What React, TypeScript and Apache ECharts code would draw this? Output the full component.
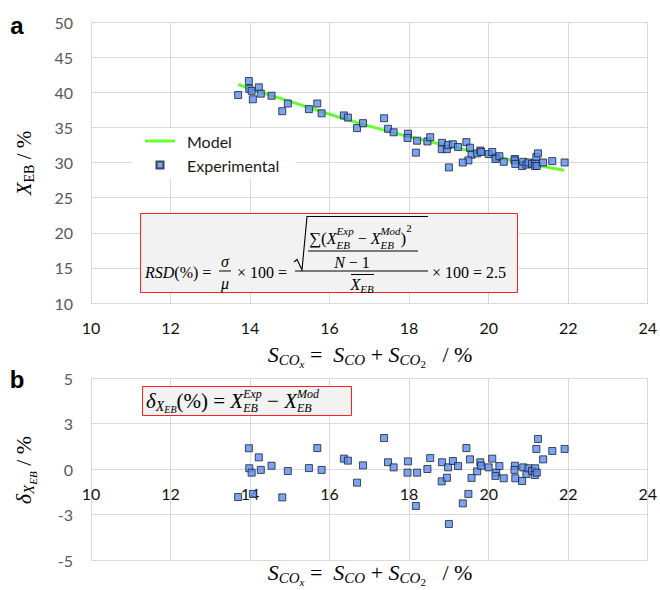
import React, { useEffect, useRef } from 'react';
import * as echarts from 'echarts';

// ---- data ----
const sCOx = [13.70, 13.97, 13.98, 14.04, 14.07, 14.22, 14.27, 14.54, 14.81, 14.95, 15.48, 15.69, 15.80, 16.36, 16.46, 16.69, 16.84, 17.37, 17.47, 17.61, 17.97, 17.96, 18.20, 18.17, 18.46, 18.53, 18.83, 18.82, 18.95, 18.98, 19.00, 19.10, 19.23, 19.44, 19.53, 19.57, 19.49, 19.35, 19.71, 19.79, 19.81, 20.00, 20.09, 20.19, 20.17, 20.27, 20.38, 20.66, 20.65, 20.67, 20.84, 20.87, 20.95, 21.00, 21.09, 21.17, 21.16, 21.21, 21.20, 21.24, 21.37, 21.60, 21.91];
const xEBExp = [39.6, 41.6, 40.5, 40.2, 39.0, 40.7, 39.8, 39.5, 37.3, 38.4, 37.6, 38.4, 37.0, 36.7, 36.4, 34.9, 35.6, 36.3, 34.8, 34.3, 34.1, 33.5, 33.1, 31.4, 33.0, 33.6, 32.8, 31.9, 31.9, 32.5, 29.3, 32.6, 32.2, 32.9, 32.1, 31.1, 30.3, 30.0, 31.3, 31.7, 31.5, 31.2, 31.5, 30.7, 30.5, 30.9, 30.1, 30.5, 30.3, 29.8, 29.5, 30.1, 29.7, 30.0, 29.8, 29.9, 29.5, 29.5, 30.8, 31.3, 30.0, 30.2, 30.0];
const deltaXEB = [-1.54, 1.14, 0.04, -0.20, -1.37, 0.64, -0.05, 0.18, -1.56, -0.11, 0.05, 1.15, -0.05, 0.57, 0.46, -0.75, 0.20, 1.70, 0.37, 0.09, 0.42, -0.20, -0.20, -2.03, 0.00, 0.60, 0.37, -0.68, -0.48, 0.09, -3.02, 0.44, 0.16, 1.15, 0.53, -0.49, -1.37, -1.89, -0.13, 0.37, 0.18, 0.09, 0.57, -0.20, -0.38, 0.16, -0.51, 0.18, -0.05, -0.51, -0.66, 0.09, -0.27, 0.04, -0.11, 0.04, -0.33, -0.20, 1.10, 1.65, 0.53, 0.99, 1.10];
const modelS = [13.7, 14.5, 15.5, 16.5, 17.5, 18.5, 19.5, 20.5, 21.2, 21.9];
const modelXEB = [41.1, 39.6, 37.8, 36.0, 34.4, 33.0, 31.7, 30.4, 29.6, 28.9];

const MATH = 'Liberation Serif';
const SANS = 'Lato';
const GRID_GRAY = '#d9d9d9';

let _ctx: CanvasRenderingContext2D | null = null;
function tw(t: string, s: number, it?: boolean) {
  if (!_ctx) _ctx = document.createElement('canvas').getContext('2d');
  _ctx!.font = `${it ? 'italic ' : ''}${s}px "${MATH}"`;
  return _ctx!.measureText(t).width;
}

type P = { t?: string; s: number; i?: boolean; dy?: number; sup?: string; sub?: string; supDy?: number; subDy?: number };

function row(ps: P[], x0: number, y0: number, center: boolean, z = 20) {
  const ws = ps.map((p) =>
    p.sup !== undefined ? Math.max(tw(p.sup, p.s, p.i), tw(p.sub || '', p.s, p.i)) : tw(p.t || '', p.s, p.i)
  );
  const total = ws.reduce((a, b) => a + b, 0);
  let x = center ? x0 - total / 2 : x0;
  const els: any[] = [];
  ps.forEach((p, k) => {
    const mk = (t: string, dy: number) => ({
      type: 'text',
      z,
      x,
      y: y0 + dy,
      style: {
        text: t,
        fontSize: p.s,
        fontFamily: MATH,
        fontStyle: p.i ? 'italic' : 'normal',
        fill: '#000',
        align: 'left',
        verticalAlign: 'middle',
      },
    });
    if (p.sup !== undefined) {
      els.push(mk(p.sup, p.supDy ?? -7));
      els.push(mk(p.sub || '', p.subDy ?? 6.5));
    } else els.push(mk(p.t || '', p.dy ?? 0));
    x += ws[k];
  });
  return els;
}

function line(x1: number, y1: number, x2: number, y2: number, z = 20) {
  return { type: 'line', z, shape: { x1, y1, x2, y2 }, style: { stroke: '#000', lineWidth: 1 } };
}

function buildGraphic() {
  const g: any[] = [];
  // panel letters
  g.push({ type: 'text', x: 17, y: 25, style: { text: 'a', fontSize: 24, fontWeight: 'bold', fontFamily: 'Liberation Sans', fill: '#000', align: 'center', verticalAlign: 'middle' } });
  g.push({ type: 'text', x: 17, y: 379, style: { text: 'b', fontSize: 24, fontWeight: 'bold', fontFamily: 'Liberation Sans', fill: '#000', align: 'center', verticalAlign: 'middle' } });

  // y axis titles (rotated)
  g.push({ type: 'group', x: 24, y: 163, rotation: Math.PI / 2, children: row([{ t: 'X', s: 21, i: true }, { t: 'EB', s: 14, dy: 5 }, { t: ' / %', s: 21 }], 0, 0, true) });
  g.push({ type: 'group', x: 23, y: 470, rotation: Math.PI / 2, children: row([{ t: 'δ', s: 22, i: true }, { t: 'X', s: 15, i: true, dy: 6 }, { t: 'EB', s: 11, i: true, dy: 10 }, { t: ' / %', s: 22 }], 0, 0, true) });

  // x axis titles
  const xt: P[] = [
    { t: 'S', s: 22, i: true }, { t: 'CO', s: 15, i: true, dy: 6 }, { t: 'x', s: 11, i: true, dy: 10 },
    { t: ' =  ', s: 22 }, { t: 'S', s: 22, i: true }, { t: 'CO', s: 15, i: true, dy: 6 },
    { t: ' + ', s: 22 }, { t: 'S', s: 22, i: true }, { t: 'CO', s: 15, i: true, dy: 6 }, { t: '2', s: 11, dy: 10 },
    { t: '   / %', s: 22 },
  ];
  g.push(...row(xt, 370, 354, true));
  g.push(...row(xt, 370, 572, true));

  // RSD formula box
  g.push({ type: 'rect', z: 15, shape: { x: 140.5, y: 213.5, width: 377, height: 79 }, style: { fill: '#f2f2f2', stroke: '#ff2020', lineWidth: 1 } });
  g.push(...row([{ t: 'RSD', s: 16, i: true }, { t: '(%)', s: 16 }, { t: ' = ', s: 16 }], 145, 272, false));
  g.push(...row([{ t: 'σ', s: 16, i: true }], 225, 261, true));
  g.push(line(219, 271, 231, 271));
  g.push(...row([{ t: 'μ', s: 16, i: true }], 225, 283, true));
  g.push(...row([{ t: ' × 100 = ', s: 16 }], 233, 272, false));
  g.push({ type: 'polyline', z: 20, shape: { points: [[294, 262], [297, 259.5], [302, 270], [307, 216.5], [428, 216.5]] }, style: { stroke: '#000', lineWidth: 1.1, fill: null } });
  g.push(...row([
    { t: '∑', s: 17 }, { t: '(', s: 17 }, { t: 'X', s: 16, i: true }, { sup: 'Exp', sub: 'EB', s: 11, i: true },
    { t: ' − ', s: 16 }, { t: 'X', s: 16, i: true }, { sup: 'Mod', sub: 'EB', s: 11, i: true }, { t: ')', s: 17 }, { t: '2', s: 11, dy: -10 },
  ], 309, 238, false));
  g.push(line(308, 251, 418, 251));
  g.push(...row([{ t: 'N', s: 16, i: true }, { t: ' − 1', s: 16 }], 352, 262, true));
  g.push(line(295, 271, 428, 271));
  g.push(line(351, 274.5, 374, 274.5));
  g.push(...row([{ t: 'X', s: 16, i: true }, { t: 'EB', s: 11, i: true, dy: 5 }], 362, 284, true));
  g.push(...row([{ t: '× 100 = 2.5', s: 16 }], 432, 272, false));

  // delta formula box
  g.push({ type: 'rect', z: 15, shape: { x: 142.5, y: 386.5, width: 209, height: 29 }, style: { fill: '#f2f2f2', stroke: '#ff2020', lineWidth: 1 } });
  g.push(...row([
    { t: 'δ', s: 21, i: true }, { t: 'X', s: 14, i: true, dy: 5 }, { t: 'EB', s: 10, i: true, dy: 8 },
    { t: '(%) = ', s: 21 }, { t: 'X', s: 21, i: true }, { sup: 'Exp', sub: 'EB', s: 12, i: true, supDy: -7.3, subDy: 7.3 },
    { t: ' − ', s: 21 }, { t: 'X', s: 21, i: true }, { sup: 'Mod', sub: 'EB', s: 12, i: true, supDy: -7.3, subDy: 7.3 },
  ], 146, 401, false));
  return g;
}

export default function App() {
  const ref = useRef<HTMLDivElement>(null);
  useEffect(() => {
    if (!ref.current) return;
    const chart = echarts.init(ref.current, undefined, { renderer: 'svg' });
    const markerStyle = { color: '#5b8def', borderColor: '#1b2233', borderWidth: 1 };
    const xAxisBase = (gi: number, offset: number) => ({
      gridIndex: gi,
      type: 'value',
      min: 10,
      max: 24,
      interval: 2,
      position: 'bottom',
      offset,
      axisLine: { show: true, onZero: false, lineStyle: { color: GRID_GRAY, width: 1 } },
      axisTick: { show: false },
      axisLabel: { fontSize: 16, color: '#111', fontFamily: SANS, margin: 16 },
      splitLine: { show: true, lineStyle: { color: GRID_GRAY, width: 1 } },
    });
    const option: any = {
      animation: false,
      backgroundColor: '#fff',
      grid: [
        { left: 91, top: 22, width: 557, height: 281 },
        { left: 91, top: 378, width: 557, height: 182 },
      ],
      legend: {
        data: [
          { name: 'Model', icon: 'path://M0 0 H30 V3 H0 Z' },
          { name: 'Experimental', icon: 'path://M0 0 H7 V7 H0 Z' },
        ],
        orient: 'vertical',
        left: 132,
        top: 128,
        backgroundColor: '#ffffff',
        padding: [5, 16, 5, 13],
        itemWidth: 30,
        itemHeight: 7,
        itemGap: 8,
        symbolKeepAspect: true,
        textStyle: { fontSize: 16, color: '#1a1a1a', fontFamily: SANS, padding: [0, 0, 0, 7] },
      },
      xAxis: [xAxisBase(0, 0), xAxisBase(1, -91)],
      yAxis: [
        {
          gridIndex: 0, type: 'value', min: 10, max: 50, interval: 5,
          axisLine: { show: true, onZero: false, lineStyle: { color: GRID_GRAY } },
          axisTick: { show: false },
          axisLabel: { fontSize: 16, color: '#595959', fontFamily: SANS, margin: 18 },
          splitLine: { show: true, lineStyle: { color: GRID_GRAY } },
        },
        {
          gridIndex: 1, type: 'value', min: -5, max: 5, interval: 2.5,
          axisLine: { show: true, onZero: false, lineStyle: { color: GRID_GRAY } },
          axisTick: { show: false },
          axisLabel: { fontSize: 16, color: '#595959', fontFamily: SANS, margin: 18, formatter: (v: number) => v.toFixed(0) },
          splitLine: { show: true, lineStyle: { color: GRID_GRAY } },
        },
      ],
      series: [
        {
          name: 'Model', type: 'line', xAxisIndex: 0, yAxisIndex: 0,
          data: modelS.map((x, i) => [x, modelXEB[i]]),
          symbol: 'none', smooth: true,
          lineStyle: { color: '#66ff33', width: 3 }, itemStyle: { color: '#66ff33' }, z: 2,
        },
        {
          name: 'Experimental', type: 'scatter', xAxisIndex: 0, yAxisIndex: 0,
          data: sCOx.map((x, i) => [x, xEBExp[i]]),
          symbol: 'rect', symbolSize: 7, itemStyle: markerStyle, z: 3,
        },
        {
          name: 'Residual', type: 'scatter', xAxisIndex: 1, yAxisIndex: 1,
          data: sCOx.map((x, i) => [x, deltaXEB[i]]),
          symbol: 'rect', symbolSize: 7, itemStyle: markerStyle, z: 3,
        },
      ],
      graphic: buildGraphic(),
    };
    chart.setOption(option);
    return () => chart.dispose();
  }, []);
  return <div ref={ref} style={{ position: 'fixed', left: 0, top: 0, width: 660, height: 590, background: '#fff' }} />;
}
